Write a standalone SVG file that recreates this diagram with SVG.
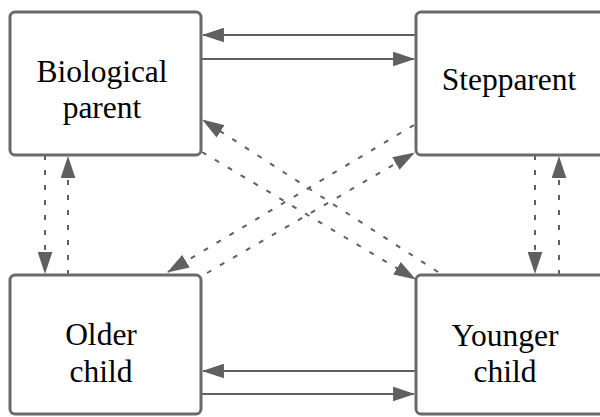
<svg xmlns="http://www.w3.org/2000/svg" width="600" height="417" viewBox="0 0 600 417">
<style>
.box{fill:#ffffff;stroke:#6a6a6a;stroke-width:3}
.lbl{font-family:"Liberation Serif","Times New Roman",serif;font-size:31.5px;fill:#000;text-anchor:middle}
.c{fill:none;stroke:#606060;stroke-width:2;marker-end:url(#ah)}
.d{stroke-dasharray:5 10}
</style>
<defs>
<marker id="ah" markerUnits="userSpaceOnUse" markerWidth="22" markerHeight="15" viewBox="0 0 21 14" refX="20" refY="7" orient="auto">
<path d="M0,0 L21,7 L0,14 z" fill="#606060"/>
</marker>
</defs>
<rect width="600" height="417" fill="#ffffff"/>
<g id="connectors">
<line class="c" x1="416" y1="35" x2="203" y2="35"/>
<line class="c" x1="201" y1="59" x2="414" y2="59"/>
<line class="c" x1="416" y1="371" x2="203" y2="371"/>
<line class="c" x1="201" y1="394" x2="414" y2="394"/>
<line class="c d" x1="45" y1="155" x2="45" y2="273"/>
<line class="c d" x1="68" y1="275" x2="68" y2="157"/>
<line class="c d" x1="535" y1="155" x2="535" y2="273"/>
<line class="c d" x1="559" y1="275" x2="559" y2="157"/>
<line class="c d" x1="202" y1="152" x2="415" y2="279"/>
<line class="c d" x1="438" y1="272" x2="203" y2="120"/>
<line class="c d" x1="207" y1="273" x2="414" y2="153"/>
<line class="c d" x1="414" y1="125" x2="168" y2="272"/>
</g>
<g id="biological-parent">
<rect class="box" x="10" y="12" width="191" height="143" rx="5"/>
<text class="lbl" x="102" y="82">Biological</text>
<text class="lbl" x="102" y="118">parent</text>
</g>
<g id="stepparent">
<rect class="box" x="416" y="12" width="200" height="143" rx="5"/>
<text class="lbl" x="509" y="90">Stepparent</text>
</g>
<g id="older-child">
<rect class="box" x="10" y="275" width="191" height="139" rx="5"/>
<text class="lbl" x="101" y="345">Older</text>
<text class="lbl" x="101" y="382">child</text>
</g>
<g id="younger-child">
<rect class="box" x="416" y="275" width="200" height="139" rx="5"/>
<text class="lbl" x="505" y="346">Younger</text>
<text class="lbl" x="505" y="382">child</text>
</g>
</svg>
